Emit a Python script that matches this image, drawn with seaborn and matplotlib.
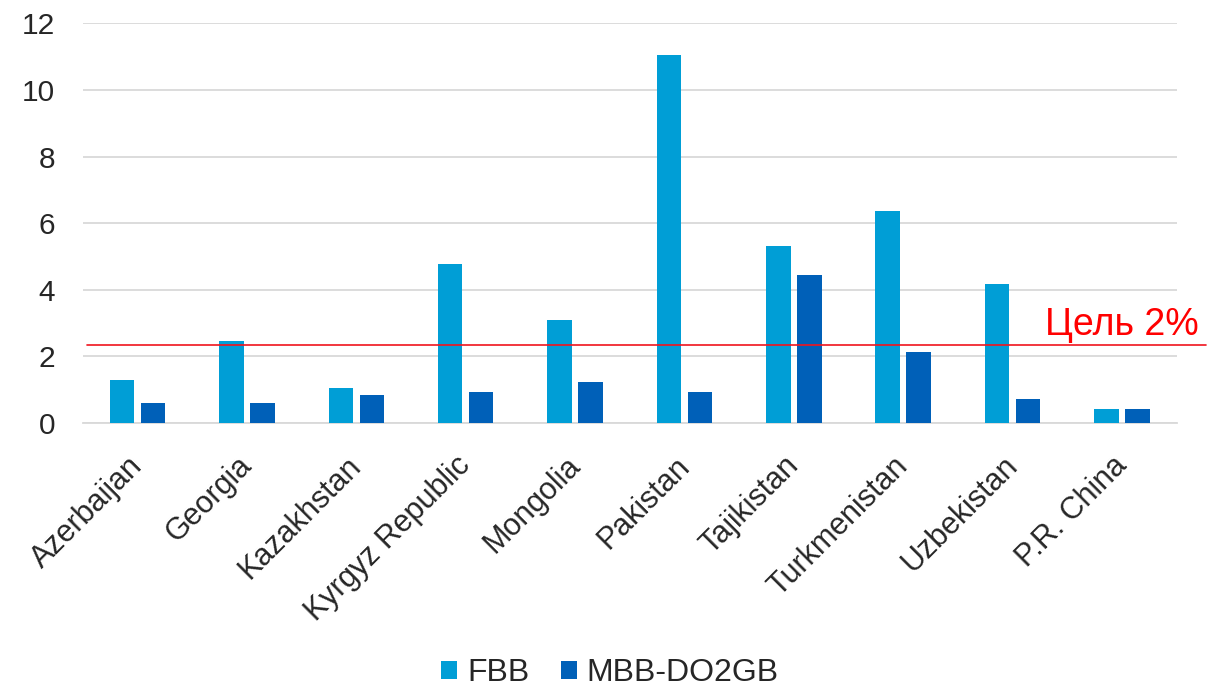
import matplotlib
matplotlib.use("Agg")
import matplotlib.pyplot as plt
import matplotlib.transforms as mtransforms
import seaborn as sns
import pandas as pd

countries = ["Azerbaijan", "Georgia", "Kazakhstan", "Kyrgyz Republic", "Mongolia",
             "Pakistan", "Tajikistan", "Turkmenistan", "Uzbekistan", "P.R. China"]
fbb = [1.29, 2.45, 1.05, 4.77, 3.09, 11.04, 5.31, 6.37, 4.18, 0.42]
mbb = [0.59, 0.59, 0.84, 0.94, 1.22, 0.94, 4.43, 2.13, 0.72, 0.42]
series = ["FBB", "MBB-DO2GB"]
target = 2.34
target_label = "Цель 2%"
yticks = [0, 2, 4, 6, 8, 10, 12]

df = pd.DataFrame({
    "country": countries * 2,
    "value": fbb + mbb,
    "series": [series[0]] * len(countries) + [series[1]] * len(countries),
})

sns.set_theme(style="white")
plt.rcParams["font.family"] = ["Liberation Sans", "DejaVu Sans"]

text_col = "#262626"
fig = plt.figure(figsize=(12.2, 6.87), dpi=100)
ax = fig.add_axes([83 / 1220, 1 - 423 / 687, (1176.5 - 83) / 1220, (423 - 23.3) / 687])

sns.barplot(data=df, x="country", y="value", hue="series", order=countries,
            hue_order=series, palette=["#009ED6", "#0060B8"], width=0.567, gap=0.21,
            linewidth=0, saturation=1, ax=ax, zorder=3)

ax.set_ylim(0, 12)
ax.set_xlim(-0.5, len(countries) - 0.5)
ax.set_yticks(yticks)
ax.set_yticklabels([str(t) for t in yticks], fontsize=21.5, color=text_col)
ax.yaxis.grid(True, color="#D9D9D9", linewidth=1.3, zorder=0)
ax.set_axisbelow(True)
for s in ["top", "right", "left"]:
    ax.spines[s].set_visible(False)
ax.spines["bottom"].set_color("#D9D9D9")
ax.spines["bottom"].set_linewidth(1.3)
ax.tick_params(axis="both", length=0)
ax.tick_params(axis="y", pad=20)
ax.set_xlabel("")
ax.set_ylabel("")
ax.set_xticks(range(len(countries)))
ax.set_xticklabels(countries, rotation=45, ha="right", rotation_mode="anchor",
                   fontsize=22, color=text_col)
ax.tick_params(axis="x", pad=20)
offset = mtransforms.ScaledTranslation(-10 / 100, 0, fig.dpi_scale_trans)
for lab in ax.get_xticklabels():
    lab.set_transform(lab.get_transform() + offset)

ax.axhline(target, xmin=4 / 1093.5, xmax=(1206 - 83) / 1093.5, color="#F0141E",
           linewidth=1.2, clip_on=False, zorder=4)
ax.text(8.30, 2.64, target_label, color="#FF0000", fontsize=27, ha="left",
        va="baseline", zorder=5)

sns.move_legend(ax, "center", bbox_to_anchor=(0.5, 1 - 673 / 687),
                bbox_transform=fig.transFigure, ncol=2, frameon=False, title=None,
                fontsize=23, handlelength=0.5, handleheight=0.5, handletextpad=0.31,
                columnspacing=0.97)
for t in ax.get_legend().get_texts():
    t.set_color(text_col)

fig.savefig("out.png", dpi=100)
